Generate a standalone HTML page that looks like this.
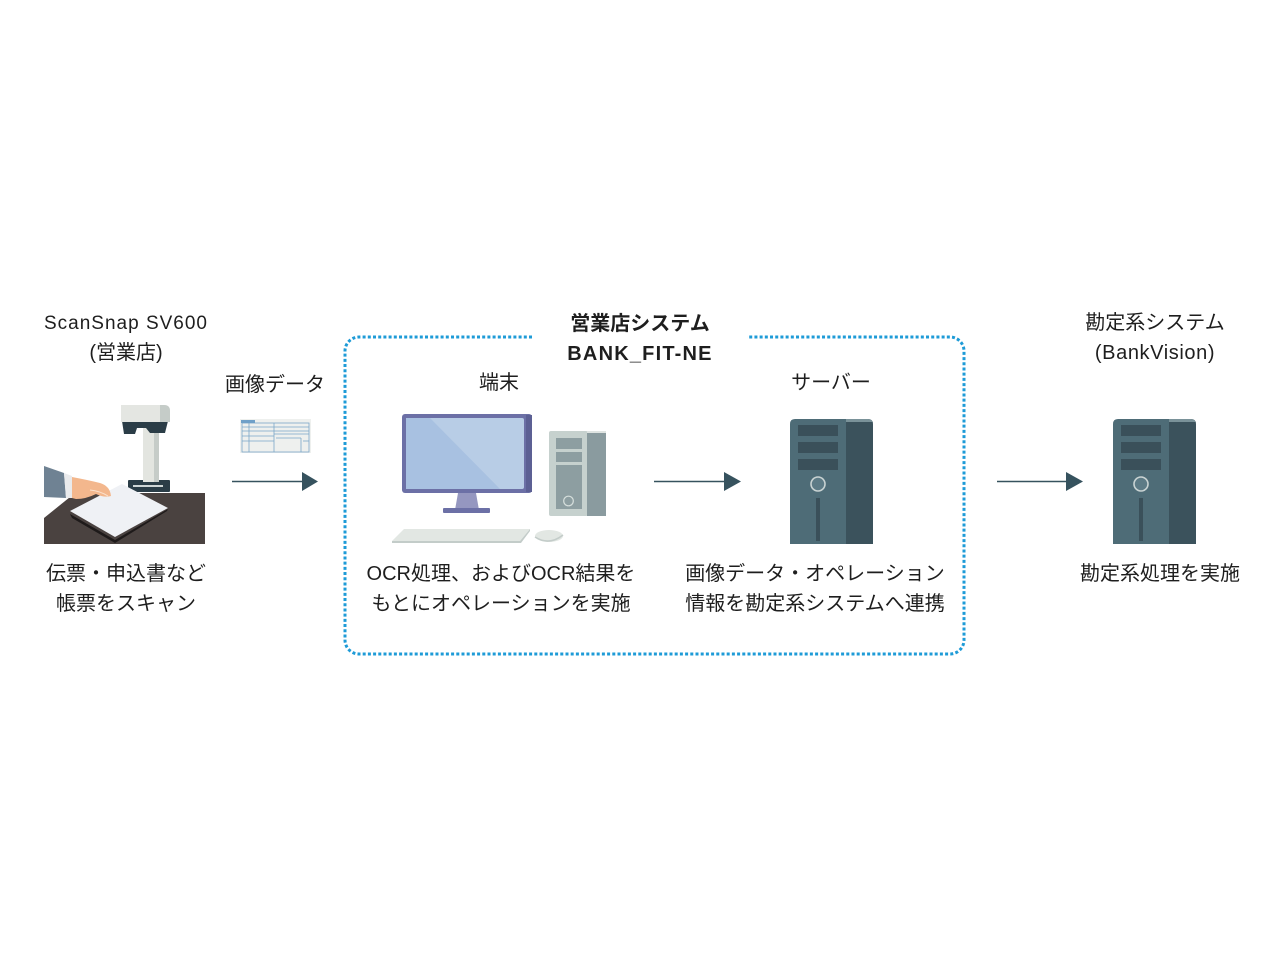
<!DOCTYPE html>
<html><head><meta charset="utf-8"><style>
html,body{margin:0;padding:0;background:#fff;}
svg{display:block;}
text{font-family:"Liberation Sans","Noto Sans CJK JP",sans-serif;fill:#1e1e1e;}
</style></head><body>
<svg width="1280" height="960" viewBox="0 0 1280 960" xmlns="http://www.w3.org/2000/svg">
<!-- dotted system border -->
<path d="M532,337 L359,337 A14,14 0 0 0 345,351 L345,640 A14,14 0 0 0 359,654 L950,654 A14,14 0 0 0 964,640 L964,351 A14,14 0 0 0 950,337 L747,337" fill="none" stroke="#1e9bd7" stroke-width="3" stroke-dasharray="3 2.2"/>

<!-- Scanner illustration -->
<polygon points="75,493 205,493 205,544 44,544 44,518" fill="#4a4240"/>
<!-- scanner base -->
<rect x="128" y="480" width="42" height="12" rx="1" fill="#2b3d47"/>
<rect x="133" y="485" width="30" height="2" fill="#cfd6d6"/>
<!-- pole -->
<rect x="143" y="428" width="16" height="54" fill="#e3e5e0"/>
<rect x="154" y="428" width="5" height="54" fill="#c6ccc8"/>
<!-- lens underside -->
<polygon points="122,421 168,421 165,433 150,433 146,428 137,428 135,434 124,434" fill="#2b3d47"/>
<!-- head -->
<path d="M121,405 L164,405 Q170,405 170,411 L170,422 L121,422 Z" fill="#e4e6e2"/>
<path d="M160,405 L164,405 Q170,405 170,411 L170,422 L160,422 Z" fill="#c5ccc8"/>
<!-- paper shadow -->
<polygon points="70,514 115,540 168,509 167,511 115,543 72,518" fill="#1e1a1a"/>
<!-- paper -->
<polygon points="70,511 122,484 168,508 115,537" fill="#eff1f5"/>
<!-- sleeve -->
<polygon points="44,466 64,473 66,498 44,497" fill="#6f8293"/>
<polygon points="64,473 72,476 72,498 66,498" fill="#e9eaec"/>
<!-- hand -->
<path d="M72,477 Q88,480 100,483 Q110,486 111,496 Q104,498 96,494 Q86,499 76,499 L72,498 Z" fill="#f3b78d"/>
<path d="M90,490 Q100,491 108,496" stroke="#fbe1cd" stroke-width="1" fill="none"/>

<!-- document icon -->
<rect x="240" y="419" width="71" height="34" fill="#eef0ee"/>
<g stroke="#7aa7c8" stroke-width="0.8" fill="none">
<rect x="242" y="423" width="67" height="29"/>
<line x1="249" y1="423" x2="249" y2="452"/>
<line x1="274" y1="423" x2="274" y2="452"/>
<line x1="242" y1="427" x2="309" y2="427"/>
<line x1="242" y1="431" x2="309" y2="431"/>
<line x1="242" y1="436" x2="274" y2="436"/>
<line x1="242" y1="441" x2="274" y2="441"/>
<line x1="274" y1="434" x2="309" y2="434"/>
<line x1="276" y1="438" x2="301" y2="438"/>
<line x1="301" y1="438" x2="301" y2="452"/>
<line x1="303" y1="441" x2="309" y2="441"/>
</g>
<rect x="241" y="420" width="14" height="3" fill="#6fa0c8"/>

<!-- arrows -->
<g stroke="#36525e" stroke-width="1.5">
<line x1="232" y1="481.5" x2="303" y2="481.5"/>
<line x1="654" y1="481.5" x2="725" y2="481.5"/>
<line x1="997" y1="481.5" x2="1068" y2="481.5"/>
</g>
<g fill="#36525e">
<polygon points="302,472 318,481.5 302,491"/>
<polygon points="724,472 741,481.5 724,491"/>
<polygon points="1066,472 1083,481.5 1066,491"/>
</g>

<!-- computer -->
<rect x="402" y="414" width="130" height="79" rx="3" fill="#6c70a6"/>
<rect x="526" y="415" width="6" height="77" fill="#5c6094"/>
<rect x="406" y="418" width="118" height="71" rx="2" fill="#b8cde6"/>
<polygon points="406,418 430,418 500,489 406,489" fill="#a8c1e1"/>
<polygon points="458,493 476,493 479,510 455,510" fill="#9597c0"/>
<rect x="443" y="508" width="47" height="5" rx="1" fill="#6c70a6"/>
<!-- tower -->
<rect x="549" y="431" width="39" height="85" rx="2" fill="#c6d1ce"/>
<rect x="587" y="431" width="19" height="85" fill="#8a9b9f"/>
<rect x="587" y="431" width="19" height="2" fill="#dfe4e2"/>
<rect x="556" y="438" width="26" height="11" fill="#8d9ea1"/>
<rect x="556" y="452" width="26" height="10" fill="#8d9ea1"/>
<rect x="556" y="465" width="26" height="44" fill="#8d9ea1"/>
<circle cx="568.5" cy="501" r="4.8" fill="none" stroke="#d6dfdc" stroke-width="1.2"/>
<!-- keyboard -->
<polygon points="404,529 530,529 520,541 392,541" fill="#e2e7e3"/>
<polygon points="520,541 530,529 530,531 521,543 392,543 392,541" fill="#c3ccc9"/>
<ellipse cx="549" cy="536" rx="14" ry="6" fill="#e2e7e3"/>
<path d="M535,537 Q549,546 563,535" fill="none" stroke="#c3ccc9" stroke-width="1.5"/>

<!-- server 1 -->
<g>
<path d="M790,544 L790,424 Q790,419 795,419 L846,419 L846,544 Z" fill="#4e6c77"/>
<path d="M846,419 L868,419 Q873,419 873,424 L873,544 L846,544 Z" fill="#3b525c"/>
<path d="M846,419 L868,419 Q873,419 873,424 L873,422 L846,422 Z" fill="#7a9299"/>
<rect x="798" y="425" width="40" height="11" fill="#3a505a"/>
<rect x="798" y="442" width="40" height="11" fill="#3a505a"/>
<rect x="798" y="459" width="40" height="11" fill="#3a505a"/>
<circle cx="818" cy="484" r="7" fill="#5d7b86" stroke="#c9d3d3" stroke-width="1.6"/>
<rect x="816" y="498" width="4" height="43" fill="#3a505a"/>
</g>
<!-- server 2 -->
<g transform="translate(323,0)">
<path d="M790,544 L790,424 Q790,419 795,419 L846,419 L846,544 Z" fill="#4e6c77"/>
<path d="M846,419 L868,419 Q873,419 873,424 L873,544 L846,544 Z" fill="#3b525c"/>
<path d="M846,419 L868,419 Q873,419 873,424 L873,422 L846,422 Z" fill="#7a9299"/>
<rect x="798" y="425" width="40" height="11" fill="#3a505a"/>
<rect x="798" y="442" width="40" height="11" fill="#3a505a"/>
<rect x="798" y="459" width="40" height="11" fill="#3a505a"/>
<circle cx="818" cy="484" r="7" fill="#5d7b86" stroke="#c9d3d3" stroke-width="1.6"/>
<rect x="816" y="498" width="4" height="43" fill="#3a505a"/>
</g>

<!-- texts -->
<g font-size="20" text-anchor="middle">
<text x="126" y="329" font-size="19" letter-spacing="1">ScanSnap SV600</text>
<text x="126" y="359">(営業店)</text>
<text x="275" y="391">画像データ</text>
<text x="499" y="389">端末</text>
<text x="831" y="389">サーバー</text>
<text x="640" y="330" font-weight="bold">営業店システム</text>
<text x="640" y="360" font-weight="bold" letter-spacing="1.2">BANK_FIT-NE</text>
<text x="1155" y="329">勘定系システム</text>
<text x="1155" y="359" letter-spacing="0.6">(BankVision)</text>
<text x="126" y="580">伝票・申込書など</text>
<text x="126" y="610">帳票をスキャン</text>
<text x="501" y="580">OCR処理、およびOCR結果を</text>
<text x="501" y="610">もとにオペレーションを実施</text>
<text x="815" y="580">画像データ・オペレーション</text>
<text x="815" y="610">情報を勘定系システムへ連携</text>
<text x="1160" y="580">勘定系処理を実施</text>
</g>
</svg>
</body></html>
